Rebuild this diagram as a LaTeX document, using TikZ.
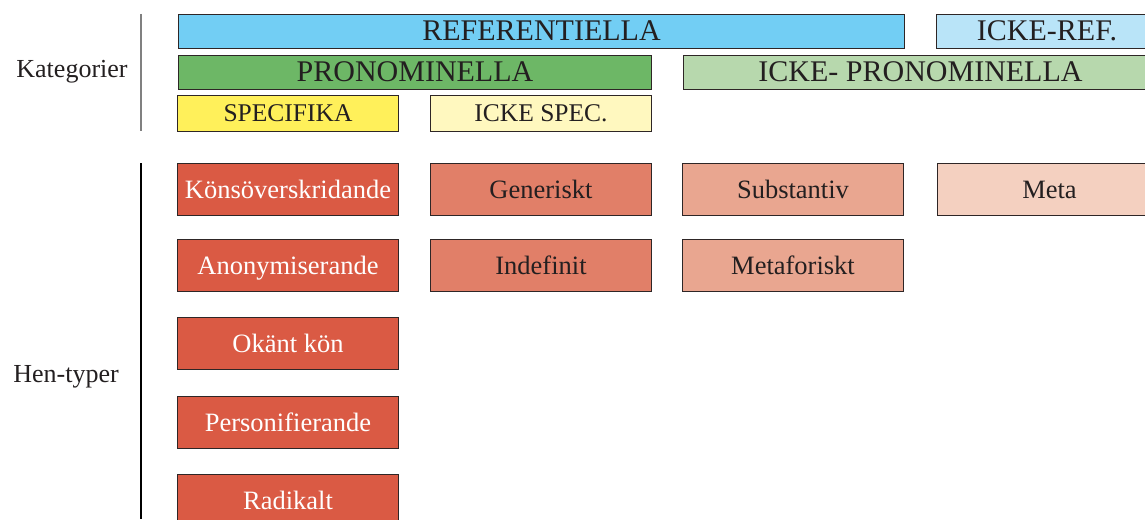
\documentclass[tikz,border=0pt]{standalone}
\usepackage{fontspec}
\setmainfont{Liberation Serif}
\usetikzlibrary{positioning}

\definecolor{refblue}{HTML}{72CEF4}
\definecolor{icerefblue}{HTML}{B9E4F8}
\definecolor{prongreen}{HTML}{6DB766}
\definecolor{iceprongreen}{HTML}{B7D8AD}
\definecolor{specyellow}{HTML}{FFF05A}
\definecolor{icespecyellow}{HTML}{FFF8BF}
\definecolor{henred}{HTML}{DA5A44}
\definecolor{henmid}{HTML}{E17F68}
\definecolor{henlight}{HTML}{E9A690}
\definecolor{henpale}{HTML}{F4D0C0}
\definecolor{boxline}{HTML}{2E2626}
\definecolor{textdark}{HTML}{231F20}

\tikzset{
    catbox/.style={draw=boxline, line width=1pt, anchor=north west, inner sep=0pt,
        minimum height=34pt, text=textdark, font=\fontsize{25.5}{26}\selectfont},
    bigcat/.style={catbox, font=\fontsize{30}{31}\selectfont, text depth=1pt},
    henbox/.style={draw=boxline, line width=1pt, anchor=north west, inner sep=0pt,
        minimum width=221pt, minimum height=52pt, text height=20pt, text depth=3pt,
        text=textdark, font=\fontsize{26.5}{27}\selectfont},
    rowlabel/.style={text=textdark, font=\fontsize{26}{27}\selectfont}
}

\begin{document}
\begin{tikzpicture}[x=1pt, y=-1pt]
    \useasboundingbox (0,0) rectangle (1145,519);

    % Kategorier
    \node[rowlabel] (kat) at (72,72) {Kategorier};
    \draw[gray, line width=1.5pt] (141,14) -- (141,131);

    \node[bigcat, fill=refblue, minimum width=726pt] (ref) at (178,14) {REFERENTIELLA};
    \node[bigcat, fill=icerefblue, minimum width=221pt] (icref) at (936,14) {ICKE-REF.};
    \node[bigcat, fill=prongreen, minimum width=473pt] (pron) at (178,55) {PRONOMINELLA};
    \node[bigcat, fill=iceprongreen, minimum width=474pt] (icpron) at (683,55) {ICKE- PRONOMINELLA};
    \node[catbox, fill=specyellow, minimum width=221pt, minimum height=36pt] (spec) at (177,95) {SPECIFIKA};
    \node[catbox, fill=icespecyellow, minimum width=221pt, minimum height=36pt] (icspec) at (430,95) {ICKE SPEC.};

    % Hen-typer
    \node[rowlabel] (hen) at (66,377) {Hen-typer};
    \draw[black, line width=1.5pt] (141,163) -- (141,519);

    \node[henbox, fill=henred, text=white] (kons) at (177,163) {Könsöverskridande};
    \node[henbox, fill=henred, text=white] (anon) at (177,239) {Anonymiserande};
    \node[henbox, fill=henred, text=white] (okant) at (177,317) {Okänt kön};
    \node[henbox, fill=henred, text=white] (pers) at (177,396) {Personifierande};
    \node[henbox, fill=henred, text=white] (rad) at (177,474) {Radikalt};

    \node[henbox, fill=henmid] (gen) at (430,163) {Generiskt};
    \node[henbox, fill=henmid] (indef) at (430,239) {Indefinit};
    \node[henbox, fill=henlight] (subst) at (682,163) {Substantiv};
    \node[henbox, fill=henlight] (metaf) at (682,239) {Metaforiskt};
    \node[henbox, fill=henpale, minimum width=224pt] (meta) at (937,163) {Meta};
\end{tikzpicture}
\end{document}
